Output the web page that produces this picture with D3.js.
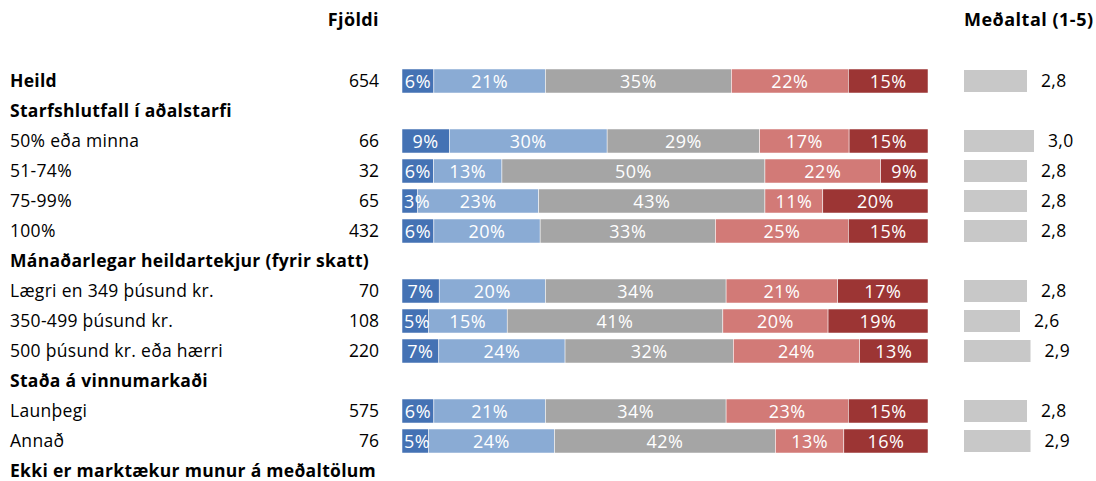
<!DOCTYPE html>
<html><head><meta charset="utf-8">
<script src="https://cdn.jsdelivr.net/npm/d3@7"></script>
<style>
body{margin:0;background:#fff;}
text{font-family:"Open Sans","Noto Sans",sans-serif;}
</style></head><body>
<svg id="c" width="1096" height="481"></svg>
<script>
const labels = ["Heild","Starfshlutfall í aðalstarfi","50% eða minna","51-74%","75-99%","100%",
  "Mánaðarlegar heildartekjur (fyrir skatt)","Lægri en 349 þúsund kr.","350-499 þúsund kr.","500 þúsund kr. eða hærri",
  "Staða á vinnumarkaði","Launþegi","Annað","Ekki er marktækur munur á meðaltölum"];
const boldRows = [true,true,false,false,false,false,true,false,false,false,true,false,false,true];
const counts = [654,null,66,32,65,432,null,70,108,220,null,575,76,null];
const s1 = [6,null,9,6,3,6,null,7,5,7,null,6,5,null];
const s2 = [21,null,30,13,23,20,null,20,15,24,null,21,24,null];
const s3 = [35,null,29,50,43,33,null,34,41,32,null,34,42,null];
const s4 = [22,null,17,22,11,25,null,21,20,24,null,23,13,null];
const s5 = [15,null,15,9,20,15,null,17,19,13,null,15,16,null];
const means = [2.8,null,3.0,2.8,2.8,2.8,null,2.8,2.6,2.9,null,2.8,2.9,null];
const colors = ["#4472b4","#8aabd4","#a5a5a5","#d27a77","#9c3534"];
const headers = {count:"Fjöldi", mean:"Meðaltal (1-5)"};

const svg = d3.select("#c");
const idx = d3.range(labels.length);
const y = d3.scaleBand().domain(idx).range([66,486]).paddingInner(0.2).paddingOuter(0.1);
const x = d3.scaleLinear().domain([0,1]).range([402,928]);
const xm = d3.scaleLinear().domain([1,5]).range([964,1104]);

const series = [s1,s2,s3,s4,s5];
const rows = idx.filter(i => s1[i] !== null).map(i => {
  const vals = series.map(s => s[i]);
  const tot = d3.sum(vals);
  const o = {i};
  vals.forEach((v,k)=> o["k"+k] = v/tot);
  o.raw = vals;
  return o;
});
const stack = d3.stack().keys([0,1,2,3,4].map(k=>"k"+k));
const stacked = stack(rows);

const g = svg.append("g");
stacked.forEach((layer,k) => {
  const lg = g.append("g");
  lg.selectAll("rect").data(layer).join("rect")
    .attr("x", d => x(d[0])).attr("width", d => x(d[1]) - x(d[0]))
    .attr("y", d => y(d.data.i)).attr("height", y.bandwidth())
    .attr("fill", colors[k]).attr("stroke","#fff").attr("stroke-width",0.5);
});
stacked.forEach((layer,k) => {
  g.append("g").selectAll("text").data(layer).join("text")
    .attr("y", d => y(d.data.i) + y.bandwidth()/2 + 6.5)
    .attr("text-anchor","middle").attr("fill","#fff").attr("font-size",18)
    .attr("letter-spacing",0.5)
    .text(d => d.data.raw[k] + "%")
    .attr("x", function(d){
      const c = (x(d[0]) + x(d[1]))/2;
      const w = this.getComputedTextLength();
      return Math.max(c, x(0) + 2 + w/2);
    });
});

// labels
svg.append("g").selectAll("text").data(idx).join("text")
  .attr("x",10).attr("y", i => y(i) + y.bandwidth()/2 + 6)
  .attr("font-size",17.5).attr("letter-spacing",0.3)
  .attr("font-weight", i => boldRows[i] ? "bold" : "normal")
  .attr("fill","#000").text(i => labels[i]);

svg.append("g").selectAll("text").data(idx.filter(i=>counts[i]!==null)).join("text")
  .attr("x",379).attr("y", i => y(i) + y.bandwidth()/2 + 6)
  .attr("text-anchor","end").attr("font-size",17.5).attr("fill","#000")
  .text(i => counts[i]);

// means
const mi = idx.filter(i=>means[i]!==null);
svg.append("g").selectAll("rect").data(mi).join("rect")
  .attr("x", xm(1)).attr("width", i => xm(means[i]) - xm(1))
  .attr("y", i => y(i) + y.bandwidth()/2 - 11).attr("height",22)
  .attr("fill","#c8c8c8");
svg.append("g").selectAll("text").data(mi).join("text")
  .attr("x", i => xm(means[i]) + 14).attr("y", i => y(i) + y.bandwidth()/2 + 6)
  .attr("font-size",17.5).attr("letter-spacing",0.3).attr("fill","#000")
  .text(i => d3.format(".1f")(means[i]).replace(".",","));

svg.append("text").attr("x",379).attr("y",26).attr("text-anchor","end")
  .attr("font-size",18).attr("letter-spacing",0.4).attr("font-weight","bold").text(headers.count);
svg.append("text").attr("x",964).attr("y",26)
  .attr("font-size",18).attr("letter-spacing",0.5).attr("font-weight","bold").text(headers.mean);
</script>
</body></html>
